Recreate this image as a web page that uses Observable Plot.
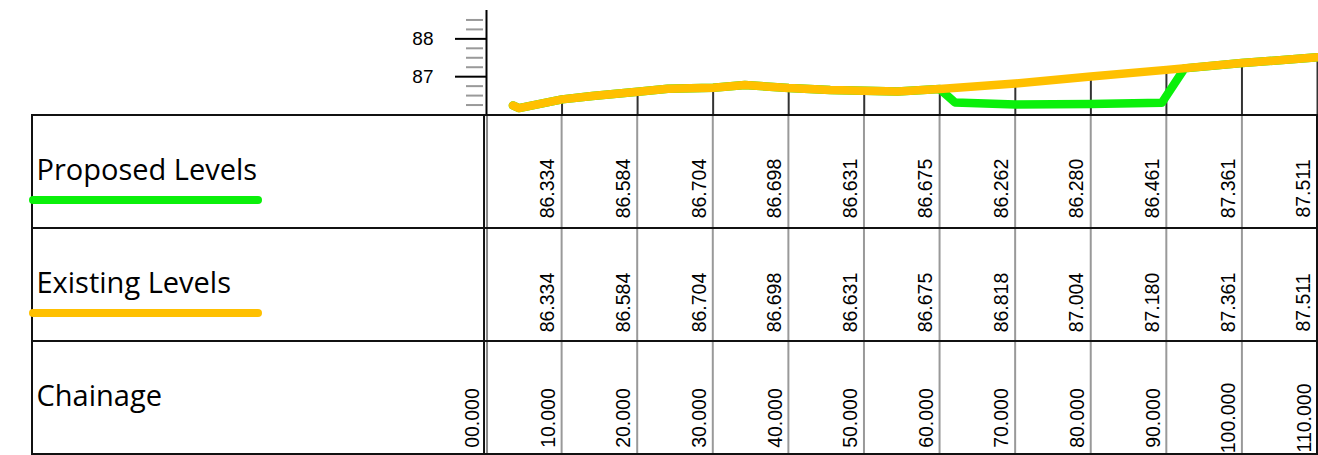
<!DOCTYPE html>
<html>
<head>
<meta charset="utf-8">
<script src="https://cdn.jsdelivr.net/npm/d3@7"></script>
<script src="https://cdn.jsdelivr.net/npm/@observablehq/plot@0.6"></script>
<style>
  html, body { margin: 0; padding: 0; background: #fff; overflow: hidden; }
  #chart svg { display: block; }
  #table { margin-top: -2px; }
</style>
</head>
<body>
<div id="chart"></div>
<div id="table"></div>
<script>
// ---------- data ----------
const rowNames = ["Proposed Levels", "Existing Levels", "Chainage"];
const chainages = [0, 10, 20, 30, 40, 50, 60, 70, 80, 90, 100, 110];
const chainageLabels = ["00.000", "10.000", "20.000", "30.000", "40.000", "50.000", "60.000", "70.000", "80.000", "90.000", "100.000", "110.000"];
const levelChainages = [10, 20, 30, 40, 50, 60, 70, 80, 90, 100, 110];
const proposedLevels = [86.334, 86.584, 86.704, 86.698, 86.631, 86.675, 86.262, 86.280, 86.461, 87.361, 87.511];
const existingLevels = [86.334, 86.584, 86.704, 86.698, 86.631, 86.675, 86.818, 87.004, 87.180, 87.361, 87.511];

// profile lines as drawn
const existingProfileChainage = [3.5, 4.3, 10, 14, 20, 24, 30, 34.2, 40, 45.5, 50, 54.4, 60, 70, 80, 90, 100, 110];
const existingProfileLevel    = [86.24, 86.17, 86.40, 86.49, 86.60, 86.68, 86.71, 86.78, 86.70, 86.65, 86.63, 86.61, 86.675, 86.818, 87.004, 87.180, 87.361, 87.511];
const proposedProfileChainage = [3.5, 4.3, 10, 14, 20, 24, 30, 34.2, 40, 45.5, 50, 54.4, 60, 62.0, 70, 80, 89.4, 92.4, 100, 110];
const proposedProfileLevel    = [86.24, 86.17, 86.40, 86.49, 86.60, 86.68, 86.71, 86.78, 86.70, 86.65, 86.63, 86.61, 86.675, 86.32, 86.262, 86.280, 86.31, 87.22, 87.361, 87.511];

const majorTicks = [87, 88];
const majorTickLabels = ["87", "88"];
const minorTicks = [86.25, 86.5, 86.75, 87.25, 87.5, 87.75, 88.25, 88.5];

const GREEN = "#0af00a";
const ORANGE = "#ffc000";

// ---------- derived tables ----------
const existingProfile = existingProfileChainage.map((c, i) => ({c, level: existingProfileLevel[i]}));
const proposedProfile = proposedProfileChainage.map((c, i) => ({c, level: proposedProfileLevel[i]}));
const stationRows = levelChainages.map((c, i) => ({chainage: c, proposed: proposedLevels[i], existing: existingLevels[i]}));
const chainageRows = chainages.map((c, i) => ({chainage: c, label: chainageLabels[i]}));
const legendRows = [
  {row: "Proposed Levels", color: GREEN},
  {row: "Existing Levels", color: ORANGE}
];

const baseStyle = {fontFamily: "Arial, 'Liberation Sans', sans-serif", fontSize: "19px", background: "transparent", color: "#000", overflow: "visible"};

// ---------- profile ----------
const profilePlot = Plot.plot({
  width: 1318,
  height: 115,
  marginLeft: 486,
  marginRight: 1,
  marginTop: 10,
  marginBottom: 1,
  x: {domain: [0, 110], axis: null},
  y: {domain: [86, 88.75], axis: null},
  style: baseStyle,
  marks: [
    Plot.axisY({ticks: minorTicks, tickSize: 17, dx: -3, tickFormat: () => "", label: null, stroke: "#999", strokeWidth: 2}),
    Plot.axisY({ticks: majorTicks, tickSize: 31, tickPadding: 22, fontSize: 19, label: null, stroke: "#000", strokeWidth: 2,
      tickFormat: v => majorTickLabels[majorTicks.indexOf(v)]}),
    Plot.ruleX([0], {y1: 86, y2: 88.75, stroke: "#000", strokeWidth: 2}),
    Plot.ruleX(stationRows, {x: "chainage", y1: 86, y2: "existing", stroke: "#333", strokeWidth: 2}),
    Plot.line(proposedProfile, {x: "c", y: "level", stroke: GREEN, strokeWidth: 8.5, strokeLinecap: "round", strokeLinejoin: "round"}),
    Plot.line(existingProfile, {x: "c", y: "level", stroke: ORANGE, strokeWidth: 8.5, strokeLinecap: "round", strokeLinejoin: "round"})
  ]
});
document.getElementById("chart").appendChild(profilePlot);

// ---------- table ----------
const tablePlot = Plot.plot({
  width: 1318,
  height: 342,
  marginLeft: 32,
  marginRight: 1,
  marginTop: 1,
  marginBottom: 1,
  x: {domain: [-60, 110], axis: null},
  y: {domain: rowNames, type: "band", padding: 0, axis: null},
  style: baseStyle,
  marks: [
    Plot.ruleX(levelChainages, {stroke: "#999", strokeWidth: 2}),
    Plot.ruleX([0], {dx: -2, stroke: "#111", strokeWidth: 2}),
    Plot.ruleX([0], {dx: 1, stroke: "#888", strokeWidth: 2}),
    Plot.barX(rowNames, {y: d => d, x1: -60, x2: 110, fill: "none", stroke: "#111", strokeWidth: 2}),
    Plot.text(rowNames, {x: -60, y: d => d, text: d => d, textAnchor: "start", dx: 4, dy: -1.7, fontSize: 29, fontFamily: "'Open Sans'", fill: "#000"}),
    Plot.ruleY(legendRows, {y: "row", x1: -59.87, x2: -30.1, dy: 28, stroke: "color", strokeWidth: 8, strokeLinecap: "round"}),
    Plot.text(stationRows, {x: "chainage", y: () => "Proposed Levels", text: d => d.proposed.toFixed(3), rotate: -90, dx: -13.5, dy: 16.5, fontSize: 19.5}),
    Plot.text(stationRows, {x: "chainage", y: () => "Existing Levels", text: d => d.existing.toFixed(3), rotate: -90, dx: -13.5, dy: 17.5, fontSize: 19.5}),
    Plot.text(chainageRows, {x: "chainage", y: () => "Chainage", text: "label", rotate: -90, dx: -13, dy: 20, fontSize: 19.5})
  ]
});
document.getElementById("table").appendChild(tablePlot);
</script>
</body>
</html>
